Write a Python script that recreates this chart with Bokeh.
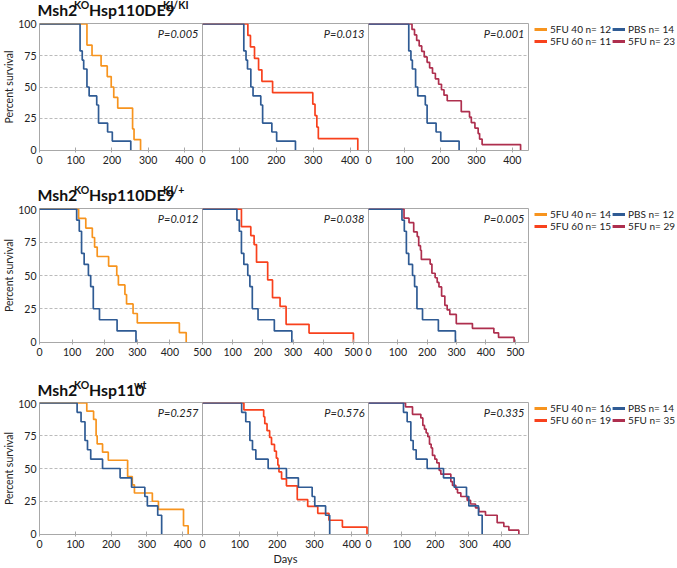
from bokeh.plotting import figure
from bokeh.models import FixedTicker, Label, Legend, LegendItem, Range1d
from bokeh.layouts import row, column
from bokeh.embed import file_html
from bokeh.resources import INLINE

# ---------------- data: event day and % survival after each step ----------------
# Row 1  Msh2KO Hsp110DE9 KI/KI
r1_pbs_days = [112, 118, 122, 131, 137, 158, 163, 188, 201, 252]
r1_pbs_surv = [78.6, 71.4, 64.3, 50.0, 42.9, 35.7, 21.4, 14.3, 7.1, 0.0]
r1_40_days = [131, 145, 170, 187, 198, 205, 216, 257, 261, 279]
r1_40_surv = [83.3, 75.0, 66.7, 58.3, 50.0, 41.7, 33.3, 16.7, 8.3, 0.0]
r1_60_days = [123, 130, 141, 152, 161, 190, 299, 305, 310, 314, 421]
r1_60_surv = [90.9, 81.8, 72.7, 63.6, 54.5, 45.5, 36.4, 27.3, 18.2, 9.1, 0.0]
r1_5fu_days = [121, 128, 134, 141, 148, 155, 163, 170, 178, 186, 195, 203, 210, 219,
               258, 281, 286, 296, 305, 309, 316, 423]
r1_5fu_surv = [95.7, 91.3, 87.0, 82.6, 78.3, 73.9, 69.6, 65.2, 60.9, 56.5, 52.2, 47.8, 43.5, 39.1,
               30.4, 26.1, 21.7, 17.4, 13.0, 8.7, 4.3, 0.0]
r1_pvals = ["P=0.005", "P=0.013", "P=0.001"]
r1_legend = ["5FU 40 n= 12", "5FU 60 n= 11", "PBS n= 14", "5FU n= 23"]
r1_title = ["Msh2", "KO", "Hsp110DE9", "KI/KI"]
r1_xmax = [450, 450, 445]
r1_ticks = [[0, 100, 200, 300, 400], [0, 100, 200, 300, 400], [0, 100, 200, 300, 400]]

# Row 2  Msh2KO Hsp110DE9 KI/+
r2_pbs_days = [114, 122, 129, 137, 150, 157, 165, 184, 238, 296]
r2_pbs_surv = [91.7, 83.3, 66.7, 58.3, 50.0, 41.7, 25.0, 16.7, 8.3, 0.0]
r2_40_days = [120, 142, 162, 169, 177, 212, 237, 242, 262, 267, 287, 300, 429, 450]
r2_40_surv = [92.9, 85.7, 78.6, 71.4, 64.3, 57.1, 50.0, 42.9, 35.7, 28.6, 21.4, 14.3, 7.1, 0.0]
r2_60_days = [129, 160, 171, 179, 216, 232, 257, 277, 353, 500]
r2_60_surv = [86.7, 80.0, 73.3, 60.0, 46.7, 33.3, 26.7, 13.3, 6.7, 0.0]
r2_5fu_days = [121, 138, 154, 166, 171, 177, 180, 210, 216, 227, 234, 240, 249, 260, 268, 277,
               299, 354, 427, 443, 496]
r2_5fu_surv = [93.1, 89.7, 82.8, 79.3, 72.4, 69.0, 62.1, 58.6, 51.7, 48.3, 44.8, 41.4, 34.5, 27.6,
               24.1, 20.7, 13.8, 10.3, 6.9, 3.4, 0.0]
r2_pvals = ["P=0.012", "P=0.038", "P=0.005"]
r2_legend = ["5FU 40 n= 14", "5FU 60 n= 15", "PBS n= 12", "5FU n= 29"]
r2_title = ["Msh2", "KO", "Hsp110DE9", "KI/+"]
r2_xmax = [500, 550, 545]
r2_ticks = [[0, 100, 200, 300, 400, 500], [100, 200, 300, 400, 500], [0, 100, 200, 300, 400, 500]]

# Row 3  Msh2KO Hsp110 wt
r3_pbs_days = [105, 116, 127, 134, 143, 176, 225, 257, 294, 301, 330, 341]
r3_pbs_surv = [92.9, 85.7, 71.4, 64.3, 57.1, 50.0, 42.9, 35.7, 28.6, 21.4, 14.3, 0.0]
r3_40_days = [132, 151, 158, 161, 176, 192, 246, 259, 265, 315, 332, 402, 415]
r3_40_surv = [93.8, 87.5, 75.0, 68.8, 62.5, 56.3, 43.8, 37.5, 31.3, 25.0, 18.8, 6.3, 0.0]
r3_60_days = [111, 164, 167, 173, 180, 185, 193, 198, 202, 205, 212, 225, 254, 282, 309, 339, 375, 441]
r3_60_surv = [94.7, 89.5, 84.2, 78.9, 73.7, 68.4, 63.2, 57.9, 52.6, 47.4, 42.1, 36.8, 26.3, 21.1,
              15.8, 10.5, 5.3, 0.0]
r3_5fu_days = [111, 132, 157, 163, 168, 173, 178, 183, 188, 192, 199, 205, 212, 217, 247, 252, 262,
               267, 277, 296, 306, 321, 331, 351, 386, 406, 421, 451]
r3_5fu_surv = [97.1, 91.4, 88.6, 82.9, 80.0, 77.1, 74.3, 68.6, 65.7, 60.0, 57.1, 54.3, 48.6, 45.7,
               40.0, 37.1, 34.3, 31.4, 28.6, 25.7, 22.9, 20.0, 17.1, 14.3, 8.6, 5.7, 2.9, 0.0]
r3_pvals = ["P=0.257", "P=0.576", "P=0.335"]
r3_legend = ["5FU 40 n= 16", "5FU 60 n= 19", "PBS n= 14", "5FU n= 35"]
r3_title = ["Msh2", "KO", "Hsp110", "wt"]
r3_xmax = [455, 445, 480]
r3_ticks = [[0, 100, 200, 300, 400], [0, 100, 200, 300, 400], [0, 100, 200, 300, 400]]

y_ticks = [0, 25, 50, 75, 100]
grid_ticks = [25, 50, 75]
y_label = "Percent survival"
x_label = "Days"

# ---------------- style / layout ----------------
ORANGE = "#F7941E"
RED = "#F8411D"
BLUE = "#2F5B94"
MAROON = "#AE2F4E"
FRAME = "#A8A8A8"
TXT = "#222222"
FONT = "Lato"

FW = [166, 166, 160]
LB = [36, 12, 12]
RB = [12, 12, 3]
OVERLAP = [0, -24, -24]
TITLE_H = [30, 33, 33]
TITLE_PULL = [16, 11, 11]
TITLE_BASE = [21, 22, 21]
ROW_T = [3, 3, 3]
ROW_H = [133, 134, 132]
ROW_B = [33, 35, 34]
LEG_W = 146
LEG_TOP = [9, 2, 1]
TITLE_SIZES = ["15.8px", "10.5px", "15.8px", "10.5px"]
TITLE_RISE = [0, 4.3, 0, 4.3]
TITLE_X = [37, 73.5, 88.5, 162.5]
TITLE_X3 = [37, 73.5, 88.5, 133.5]


def step_xy(days, surv):
    return [0] + list(days), [100.0] + list(surv)


def make_panel(i, ri, xmax, ticks, treat, pbs, pval):
    height = ROW_T[ri] + ROW_H[ri] + ROW_B[ri]
    p = figure(width=LB[i] + FW[i] + RB[i], height=height,
               x_range=Range1d(0, xmax), y_range=Range1d(-0.4, 100.4),
               output_backend="svg", toolbar_location=None,
               min_border_left=LB[i], min_border_right=RB[i],
               min_border_top=ROW_T[ri], min_border_bottom=ROW_B[ri],
               y_axis_location="left" if i == 0 else None,
               background_fill_color=None, border_fill_color=None,
               outline_line_color=FRAME, outline_line_width=1,
               margin=(0, 0, 0, OVERLAP[i]))
    p.xgrid.visible = False
    p.ygrid.ticker = FixedTicker(ticks=grid_ticks)
    p.ygrid.grid_line_color = "#BBBBBB"
    p.ygrid.grid_line_dash = "3 2"
    p.ygrid.grid_line_width = 1

    ax = p.xaxis[0]
    ax.ticker = FixedTicker(ticks=ticks)
    ax.axis_line_color = None
    ax.major_tick_line_color = FRAME
    ax.major_tick_in = 3
    ax.major_tick_out = 2
    ax.minor_tick_line_color = None
    ax.major_label_standoff = 3
    ax.major_label_text_font = FONT
    ax.major_label_text_font_size = "10.5px"
    ax.major_label_text_color = TXT
    if ri == 2 and i == 1:
        ax.axis_label = x_label
        ax.axis_label_standoff = 1
        ax.axis_label_text_font = FONT
        ax.axis_label_text_font_size = "11px"
        ax.axis_label_text_font_style = "normal"
        ax.axis_label_text_color = TXT

    if i == 0:
        ay = p.yaxis[0]
        ay.ticker = FixedTicker(ticks=y_ticks)
        ay.axis_line_color = None
        ay.major_tick_line_color = None
        ay.minor_tick_line_color = None
        ay.major_tick_in = 0
        ay.major_tick_out = 0
        ay.major_label_standoff = 3
        ay.major_label_text_font = FONT
        ay.major_label_text_font_size = "10.5px"
        ay.major_label_text_color = TXT
        ay.axis_label = y_label
        ay.axis_label_standoff = 0
        ay.axis_label_text_font = FONT
        ay.axis_label_text_font_size = "10.5px"
        ay.axis_label_text_font_style = "normal"
        ay.axis_label_text_color = TXT

    tx, ty = step_xy(*treat[0])
    p.step(tx, ty, mode="after", line_color=treat[1], line_width=1.7)
    bx, by = step_xy(*pbs)
    p.step(bx, by, mode="after", line_color=BLUE, line_width=1.7)

    p.add_layout(Label(x=xmax, y=100, x_offset=-4, y_offset=-3, text=pval,
                       text_align="right", text_baseline="top", text_font=FONT,
                       text_font_style="italic", text_font_size="11px",
                       text_color=TXT))
    return p


def make_title(ri, parts, xs):
    h = TITLE_H[ri]
    w = 230
    f = figure(width=w, height=h, x_range=Range1d(0, w), y_range=Range1d(0, h),
               min_border=0, x_axis_location=None, y_axis_location=None,
               output_backend="svg", toolbar_location=None,
               background_fill_color=None, border_fill_color=None,
               outline_line_color=None, margin=(0, 0, -TITLE_PULL[ri], 0))
    f.grid.visible = False
    for t, x, s, r in zip(parts, xs, TITLE_SIZES, TITLE_RISE):
        f.add_layout(Label(x=x, y=TITLE_BASE[ri] + r, text=t,
                           text_align="left", text_baseline="alphabetic",
                           text_font=FONT, text_font_style="bold",
                           text_font_size=s, text_color="#111111"))
    return f


def make_legend(ri, labels):
    height = ROW_T[ri] + ROW_H[ri] + ROW_B[ri]
    f = figure(width=LEG_W, height=height, x_range=Range1d(0, 1), y_range=Range1d(0, 1),
               min_border_top=LEG_TOP[ri], min_border_left=3, min_border_right=2,
               min_border_bottom=0, x_axis_location=None, y_axis_location=None,
               output_backend="svg", toolbar_location=None,
               background_fill_color=None, border_fill_color=None,
               outline_line_color=None)
    f.grid.visible = False
    nan = float("nan")
    rs = [f.line(x=[nan], y=[nan], line_color=c, line_width=3)
          for c in (ORANGE, RED, BLUE, MAROON)]
    for k, loc in ((0, "top_left"), (2, "top_right")):
        lg = Legend(items=[LegendItem(label=labels[k], renderers=[rs[k]]),
                           LegendItem(label=labels[k + 1], renderers=[rs[k + 1]])],
                    location=loc, orientation="vertical",
                    glyph_width=13, glyph_height=12, label_height=12,
                    label_standoff=3, spacing=0, padding=0, margin=0,
                    border_line_color=None, background_fill_alpha=0,
                    label_text_font=FONT, label_text_font_size="10px",
                    label_text_color=TXT)
        f.add_layout(lg)
    return f


rows_def = [
    (r1_xmax, r1_ticks, [(r1_40_days, r1_40_surv), (r1_60_days, r1_60_surv), (r1_5fu_days, r1_5fu_surv)],
     (r1_pbs_days, r1_pbs_surv), r1_pvals, r1_legend, r1_title, TITLE_X),
    (r2_xmax, r2_ticks, [(r2_40_days, r2_40_surv), (r2_60_days, r2_60_surv), (r2_5fu_days, r2_5fu_surv)],
     (r2_pbs_days, r2_pbs_surv), r2_pvals, r2_legend, r2_title, TITLE_X),
    (r3_xmax, r3_ticks, [(r3_40_days, r3_40_surv), (r3_60_days, r3_60_surv), (r3_5fu_days, r3_5fu_surv)],
     (r3_pbs_days, r3_pbs_surv), r3_pvals, r3_legend, r3_title, TITLE_X3),
]
treat_colors = [ORANGE, RED, MAROON]

blocks = []
for ri, (xmaxs, ticks, treats, pbs, pvals, legl, title, txs) in enumerate(rows_def):
    figs = []
    for i in range(3):
        figs.append(make_panel(i, ri, xmaxs[i], ticks[i], (treats[i], treat_colors[i]), pbs, pvals[i]))
    figs.append(make_legend(ri, legl))
    blocks.append(make_title(ri, title, txs))
    blocks.append(row(*figs))

page = column(*blocks)
open("out.html", "w").write(file_html(page, INLINE))
